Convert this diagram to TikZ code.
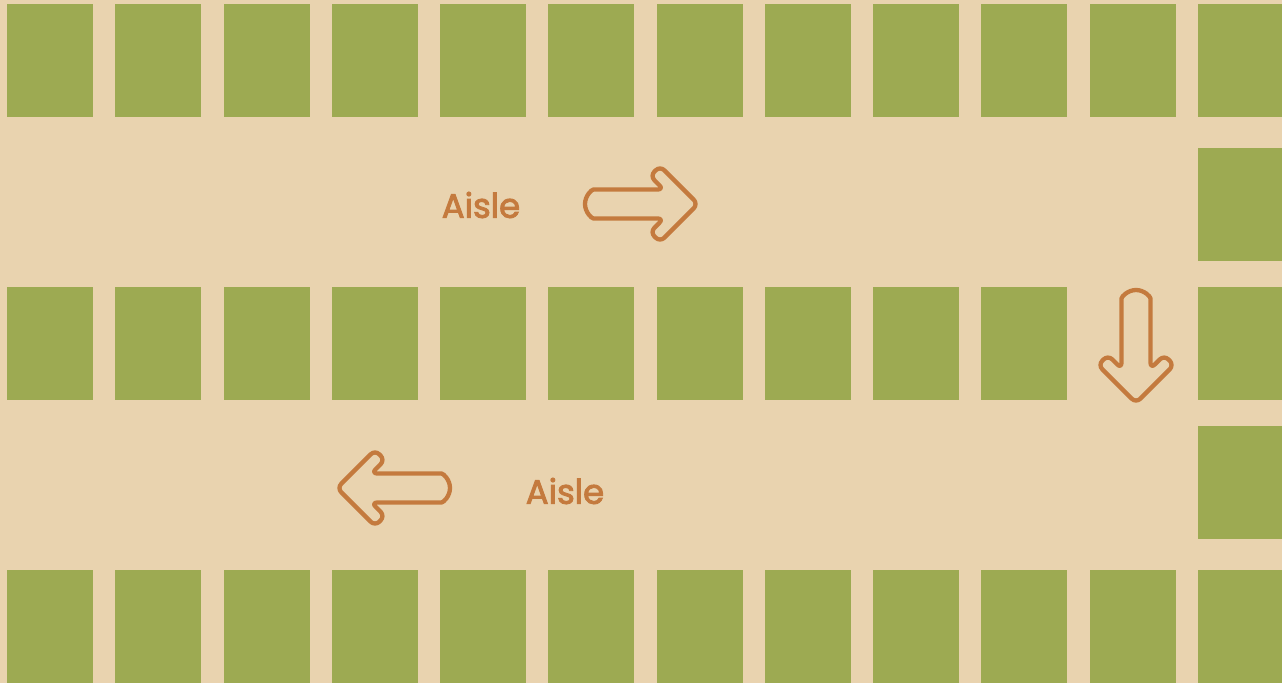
\documentclass[tikz,border=0pt]{standalone}
\usepackage{fontspec}
\setmainfont{Poppins}
\newfontfamily\aislefont{Poppins}[FakeBold=2.6]
\definecolor{bg}{RGB}{233,211,175}
\definecolor{shelf}{RGB}{157,170,82}
\definecolor{ink}{RGB}{196,122,62}
\tikzset{
  shelfbox/.style={fill=shelf, draw=none},
  arrowline/.style={draw=ink, line width=4.3pt, rounded corners=6pt, line join=round},
  aislelabel/.style={text=ink, font=\aislefont\fontsize{34}{34}\selectfont, inner sep=0pt, anchor=center}
}
\newcommand{\shelfat}[2]{\fill[shelfbox] (#1,#2) rectangle ++(86,113);}
\newcommand{\aislearrow}{%
  \draw[arrowline] (-98.5,14.5) arc[start angle=90, end angle=270, radius=14.5]
    -- (-34.3,-14.5) -- (-47.9,-28.1) -- (-38,-38) -- (0,0) -- (-38,38)
    -- (-47.9,28.1) -- (-34.3,14.5) -- cycle;}
\begin{document}
\begin{tikzpicture}[x=1pt,y=-1pt]
\useasboundingbox (0,0) rectangle (1282,683);
\fill[bg] (0,0) rectangle (1282,683);
% top and bottom rows
\foreach \i in {0,...,11}{
  \pgfmathsetmacro{\xx}{7+108.27*\i}
  \shelfat{\xx}{4}
  \shelfat{\xx}{570}
}
% middle row
\foreach \i in {0,...,9}{
  \pgfmathsetmacro{\xx}{7+108.27*\i}
  \shelfat{\xx}{287}
}
% right column
\shelfat{1198}{148}
\shelfat{1198}{287}
\shelfat{1198}{426}
% labels
\node[aislelabel] (a1) at (481,205) {Aisle};
\node[aislelabel] (a2) at (565,491) {Aisle};
% arrows
\begin{scope}[shift={(698,204)}]\aislearrow\end{scope}
\begin{scope}[shift={(337,488)}, rotate=180]\aislearrow\end{scope}
\begin{scope}[shift={(1136,403)}, rotate=-90]\aislearrow\end{scope}
\end{tikzpicture}
\end{document}
